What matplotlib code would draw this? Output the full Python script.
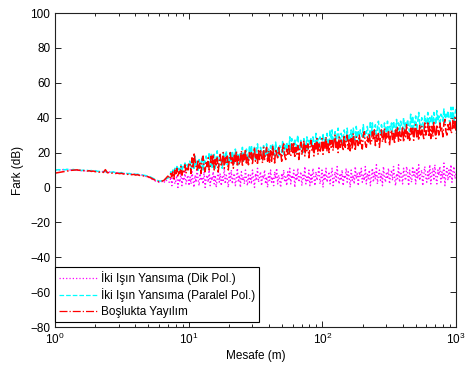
import numpy as np
import matplotlib
matplotlib.use("Agg")
import matplotlib.pyplot as plt

plt.rcParams['font.family'] = ['Liberation Sans', 'DejaVu Sans']
plt.rcParams['mathtext.fontset'] = 'custom'
plt.rcParams['mathtext.rm'] = 'Liberation Sans'

# distance grids (m): near region 1..7 m, far region 7..1000 m
mesafe_yakin = np.logspace(0, 3 * 56 / 199, 57)
mesafe_uzak = np.logspace(3 * 57 / 199, 3, 285)

# ---- near region values (dB) ----
dik_yakin = [
    9.8, 10.0, 10.1, 9.9, 10.2, 10.0, 10.3, 10.1, 9.9, 10.2, 10.0,
    9.8, 9.9, 9.6, 9.8, 9.5, 9.7, 9.4, 9.6, 9.3, 9.5,
    9.2, 9.0, 9.3, 8.9, 9.1, 8.7, 8.9, 8.6, 8.8, 8.4, 8.5,
    8.2, 8.4, 8.0, 8.1, 7.8, 7.9, 7.6, 7.7, 7.4, 7.5, 7.0, 7.1, 6.7, 6.4, 6.0,
    5.5, 4.8, 4.2, 3.6, 3.2, 2.8, 3.5, 2.5, 4.5, 3.0,
]
paralel_yakin = [
    10.0, 10.1, 10.2, 10.0, 10.3, 10.1, 10.4, 10.2, 10.0, 10.3, 10.1,
    9.8, 10.0, 9.7, 9.9, 9.6, 9.8, 9.5, 9.7, 9.4, 9.6,
    9.3, 9.1, 9.4, 9.0, 9.2, 8.8, 9.0, 8.7, 8.9, 8.5, 8.6,
    8.3, 8.5, 8.1, 8.2, 7.9, 8.0, 7.7, 7.8, 7.5, 7.6, 7.2, 7.3, 7.0, 6.8, 6.6,
    6.2, 5.6, 5.0, 4.4, 3.9, 3.6, 3.8, 4.2, 4.8, 5.4,
]
bosluk_yakin = [
    8.2, 8.4, 8.6, 8.8, 9.0, 9.2, 9.4, 9.6, 9.8, 9.9, 10.0,
    10.1, 9.8, 10.0, 9.6, 9.8, 9.4, 9.6, 9.2, 9.4, 9.0,
    9.2, 8.8, 9.0, 8.6, 10.2, 8.4, 8.6, 8.2, 8.4, 8.0, 8.2,
    7.9, 8.1, 7.7, 7.9, 7.5, 7.7, 7.3, 7.5, 7.1, 7.3, 6.9, 7.0, 6.6, 6.4, 6.2,
    5.8, 5.2, 4.6, 4.0, 3.5, 3.3, 3.6, 4.0, 5.2, 6.5,
]

# ---- far region values (dB) ----
dik_uzak = [
    3, 6, 1, 5, 8, 2, 4, 7, 0, 5, 3, 8, 1, 6, 4, 9, 2, 5, 7, 1,
    6, 2, 9, 4, 0, 7, 3, 10, 5, 1, 8, 4, 6, 2, 9, 0, 5, 7, 3, 10,
    1, 6, 4, 9, 2, 7, 0, 5, 10, 3, 8, 1, 6, 4, 11, 2, 7, 5, 0, 9,
    4, 10, 2, 6, 8, 1, 5, 11, 3, 7, 0, 9, 4, 6, 2, 10, 5, 1, 8, 3,
    7, 2, 10, 5, 0, 8, 4, 11, 3, 6, 9, 1, 7, 5, 10, 2, 6, 0, 8, 4,
    10, 3, 6, 1, 9, 5, 11, 2, 7, 4, 0, 8, 5, 10, 3, 6, 1, 9, 4, 11,
    2, 7, 5, 10, 0, 8, 4, 11, 3, 6, 9, 1, 7, 5, 12, 2, 6, 4, 10, 1,
    8, 3, 11, 6, 1, 9, 4, 7, 12, 2, 5, 10, 0, 8, 4, 11, 3, 6, 9, 2,
    7, 11, 1, 5, 9, 3, 12, 6, 2, 8, 4, 10, 1, 7, 5, 11, 3, 9, 6, 0,
    10, 4, 7, 2, 12, 5, 8, 1, 9, 6, 11, 3, 7, 4, 12, 2, 8, 5, 10, 1,
    6, 11, 3, 9, 5, 13, 2, 7, 10, 4, 8, 1, 12, 6, 3, 9, 5, 11, 2, 7,
    10, 4, 12, 6, 1, 8, 5, 13, 3, 9, 7, 2, 11, 6, 4, 12, 8, 1, 10, 5,
    3, 12, 7, 9, 2, 11, 5, 13, 4, 8, 10, 1, 7, 12, 6, 3, 9, 5, 13, 2,
    8, 11, 4, 13, 6, 2, 10, 7, 12, 3, 9, 5, 14, 1, 8, 11, 4, 10, 6, 13,
    3, 9, 12, 5, 8,
]
paralel_uzak = [
    6, 9, 7, 10, 8, 11, 8, 12, 9, 11, 10, 13, 9, 12, 11, 14, 10, 13, 12, 15,
    15, 10, 16, 12, 10, 18, 12, 15, 9, 16, 14, 11, 18, 10, 16, 14, 18, 13, 11, 20,
    12, 19, 11, 15, 19, 11, 17, 21, 14, 12, 18, 15, 11, 20, 17, 14, 21, 13, 18, 15,
    20, 15, 21, 17, 14, 22, 16, 19, 13, 20, 19, 16, 23, 15, 20, 18, 22, 17, 15, 24,
    17, 24, 16, 20, 23, 15, 21, 25, 19, 17, 23, 20, 16, 24, 21, 18, 25, 17, 22, 20,
    24, 19, 25, 21, 18, 26, 20, 23, 18, 24, 23, 20, 27, 19, 24, 22, 26, 21, 20, 29,
    21, 28, 20, 24, 28, 20, 26, 30, 23, 21, 27, 24, 20, 28, 25, 22, 29, 21, 27, 24,
    28, 23, 29, 26, 22, 31, 25, 28, 22, 29, 27, 24, 31, 23, 29, 27, 31, 26, 24, 33,
    25, 33, 25, 29, 32, 24, 30, 34, 28, 26, 31, 29, 25, 33, 30, 27, 34, 26, 31, 28,
    33, 28, 34, 30, 27, 35, 29, 32, 27, 33, 32, 29, 36, 28, 33, 31, 35, 30, 28, 38,
    30, 37, 29, 33, 36, 28, 34, 38, 32, 30, 36, 33, 29, 37, 34, 31, 38, 30, 35, 33,
    37, 32, 38, 34, 31, 39, 33, 37, 31, 38, 36, 33, 40, 32, 37, 35, 39, 34, 32, 42,
    34, 41, 33, 37, 41, 33, 38, 43, 36, 34, 40, 37, 33, 41, 38, 36, 43, 35, 40, 37,
    41, 36, 43, 39, 36, 44, 38, 41, 35, 42, 41, 38, 45, 37, 42, 40, 44, 39, 37, 46,
    39, 46, 38, 42, 45,
]
bosluk_uzak = [
    5, 8, 6, 9, 5, 10, 7, 11, 6, 9, 8, 12, 7, 10, 9, 13, 8, 11, 10, 14,
    14, 8, 17, 11, 20, 15, 12, 10, 16, 11, 14, 8, 16, 18, 11, 9, 15, 12, 17, 10,
    11, 18, 13, 19, 10, 16, 12, 17, 9, 15, 19, 12, 15, 20, 11, 17, 14, 18, 10, 16,
    20, 14, 17, 11, 19, 15, 21, 12, 18, 13, 16, 21, 12, 19, 15, 22, 14, 18, 13, 20,
    16, 20, 13, 20, 23, 15, 19, 13, 22, 16, 21, 17, 14, 23, 16, 19, 23, 15, 21, 14,
    21, 15, 24, 18, 14, 22, 19, 17, 23, 18, 20, 15, 23, 25, 18, 16, 22, 19, 24, 18,
    18, 25, 20, 26, 17, 23, 19, 24, 16, 22, 26, 19, 22, 27, 18, 24, 21, 25, 17, 23,
    27, 21, 24, 18, 26, 22, 28, 19, 25, 20, 23, 28, 19, 26, 22, 29, 21, 25, 20, 27,
    23, 27, 21, 27, 30, 22, 26, 20, 29, 23, 28, 24, 21, 30, 23, 26, 30, 22, 28, 21,
    28, 22, 31, 25, 21, 29, 27, 24, 30, 25, 27, 22, 30, 32, 25, 23, 29, 26, 31, 25,
    25, 32, 27, 33, 24, 30, 26, 31, 23, 29, 33, 26, 29, 34, 25, 31, 28, 32, 24, 30,
    33, 27, 31, 25, 33, 29, 35, 26, 32, 27, 30, 35, 26, 33, 29, 36, 28, 32, 27, 34,
    30, 34, 27, 33, 36, 29, 33, 27, 36, 30, 35, 31, 28, 37, 30, 33, 37, 29, 35, 28,
    35, 29, 38, 32, 28, 36, 33, 30, 37, 32, 34, 29, 37, 39, 32, 30, 36, 33, 38, 31,
    32, 39, 34, 40, 31,
]

labels = ['İki Işın Yansıma (Dik Pol.)',
          'İki Işın Yansıma (Paralel Pol.)',
          'Boşlukta Yayılım']

mesafe = np.concatenate([mesafe_yakin, mesafe_uzak])
dik_pol = np.concatenate([dik_yakin, dik_uzak])
paralel_pol = np.concatenate([paralel_yakin, paralel_uzak])
bosluk = np.concatenate([bosluk_yakin, bosluk_uzak])

fig = plt.figure(figsize=(4.7, 3.69), dpi=100)
ax = fig.add_axes([55/470, 42/369, 401/470, 314/369])

ax.semilogx(mesafe, dik_pol, ':', color='#FF00FF', lw=1.0, label=labels[0])
ax.semilogx(mesafe, paralel_pol, '--', color='#00FFFF', lw=1.1, label=labels[1])
ax.semilogx(mesafe, bosluk, '-.', color='#FF0000', lw=1.1, label=labels[2])

ax.set_xlim(1, 1000)
ax.set_ylim(-80, 100)
ax.set_yticks(np.arange(-80, 101, 20))
ax.tick_params(which='both', direction='in', top=True, right=True,
               labelsize=8.5, width=0.6)
ax.tick_params(which='major', length=4)
ax.tick_params(which='minor', length=2)
for s in ax.spines.values():
    s.set_linewidth(0.8)
    s.set_color('#222222')

ax.set_xlabel('Mesafe (m)', fontsize=8.5, labelpad=2)
ax.set_ylabel('Fark (dB)', fontsize=8.5, labelpad=4)

leg = ax.legend(loc='lower left', bbox_to_anchor=(0.0, 0.016), borderaxespad=0,
                fontsize=8.5, fancybox=False, framealpha=1, edgecolor='black',
                handlelength=3.2, handletextpad=0.35, labelspacing=0.3,
                borderpad=0.35)
leg.get_frame().set_linewidth(0.8)
for h in leg.get_lines():
    h.set_linewidth(0.9)

fig.savefig('out.png', dpi=100)
